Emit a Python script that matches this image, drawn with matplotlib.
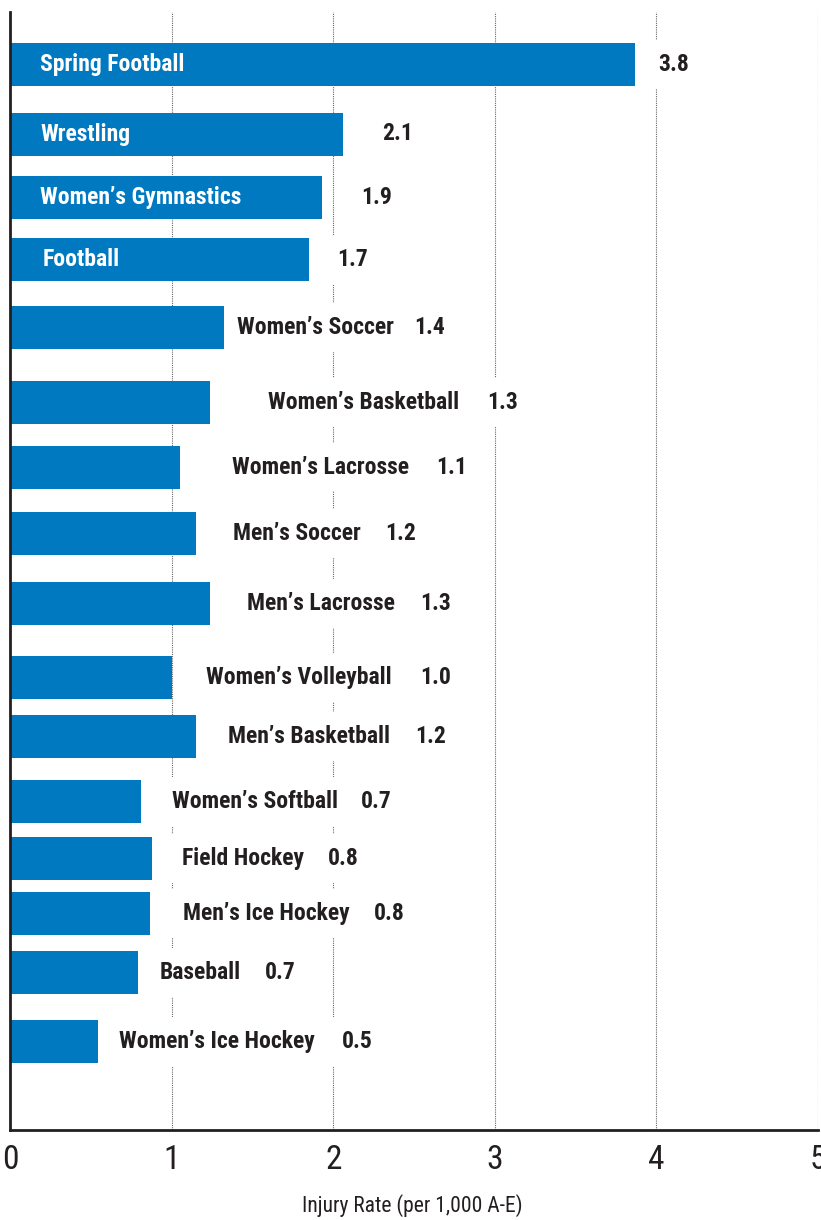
import matplotlib.pyplot as plt
from matplotlib import font_manager

sports = ['Spring Football', 'Wrestling', "Women\u2019s Gymnastics", 'Football',
          "Women\u2019s Soccer", "Women\u2019s Basketball", "Women\u2019s Lacrosse",
          "Men\u2019s Soccer", "Men\u2019s Lacrosse", "Women\u2019s Volleyball",
          "Men\u2019s Basketball", "Women\u2019s Softball", 'Field Hockey',
          "Men\u2019s Ice Hockey", 'Baseball', "Women\u2019s Ice Hockey"]
value_labels = ['3.8', '2.1', '1.9', '1.7', '1.4', '1.3', '1.1', '1.2', '1.3',
                '1.0', '1.2', '0.7', '0.8', '0.8', '0.7', '0.5']
# bar lengths as drawn in the original graphic
bar_len = [3.87, 2.06, 1.93, 1.85, 1.34, 1.24, 1.05, 1.15, 1.24,
           1.0, 1.15, 0.81, 0.88, 0.865, 0.79, 0.545]
ticks = [0, 1, 2, 3, 4, 5]

# layout: bar centres (pixel rows), where the label / value text starts
y_pos = [64.5, 134, 197.5, 259.5, 327.5, 402.5, 467, 533.5, 603.5,
         677.5, 736.5, 801.5, 858.5, 913.5, 972.5, 1041.5]
label_x = [40, 40, 40, 43, 237, 268, 232, 233, 247, 206, 228, 172, 182, 183, 160, 119]
value_x = [658, 382, 361, 337, 414, 487, 436, 385, 420, 420, 415, 361, 328, 374, 265, 342]
n_inside = 4

names = {f.name for f in font_manager.fontManager.ttflist}
cond = next(f for f in ['Roboto Condensed', 'Archivo Narrow', 'Barlow Semi Condensed',
                        'Liberation Sans Narrow', 'DejaVu Sans'] if f in names or f == 'DejaVu Sans')

W, H = 821, 1220
fig = plt.figure(figsize=(W / 100, H / 100), dpi=100)
x0, x1, ytop, ybot = 10, 818, 12, 1130
ax = fig.add_axes([x0 / W, 1 - ybot / H, (x1 - x0) / W, (ybot - ytop) / H])
ax.set_xlim(0, 5)
ax.set_ylim(ybot, ytop)

blue = '#0079c1'
dark = '#231f20'
px = 5 / (x1 - x0)  # data units per pixel
fs = 17


def label(x, y, s, color, knockout):
    kw = dict(fontsize=fs, fontweight='bold', family=cond, va='center', ha='left')
    if knockout:
        # white box behind the text that breaks the grid lines
        ax.text(x, y, s, color='none', zorder=3,
                bbox=dict(facecolor='white', edgecolor='none', pad=9), **kw)
    ax.text(x, y, s, color=color, zorder=4, **kw)


ax.barh(y_pos, bar_len, height=43, color=blue, zorder=2)

for i, (name, val) in enumerate(zip(sports, value_labels)):
    inside = i < n_inside
    label((label_x[i] - x0) * px, y_pos[i], name, 'white' if inside else dark, not inside)
    label((value_x[i] - x0) * px, y_pos[i], val, dark, True)

ax.set_xticks(ticks)
ax.set_xticklabels([str(t) for t in ticks], family=cond, fontsize=24, color=dark)
ax.tick_params(axis='x', length=0, pad=10)
ax.set_yticks([])
ax.grid(axis='x', color='#666666', linestyle=(0, (1, 1)), linewidth=0.8, zorder=1)
ax.set_axisbelow(True)
for s in ['top', 'right']:
    ax.spines[s].set_visible(False)
for s in ['left', 'bottom']:
    ax.spines[s].set_color(dark)
    ax.spines[s].set_linewidth(2)

fig.text(412 / W, 1 - 1206 / H, 'Injury Rate (per 1,000 A-E)', family=cond,
         fontsize=15.5, color=dark, ha='center', va='center')

fig.savefig('out.png', dpi=100)
